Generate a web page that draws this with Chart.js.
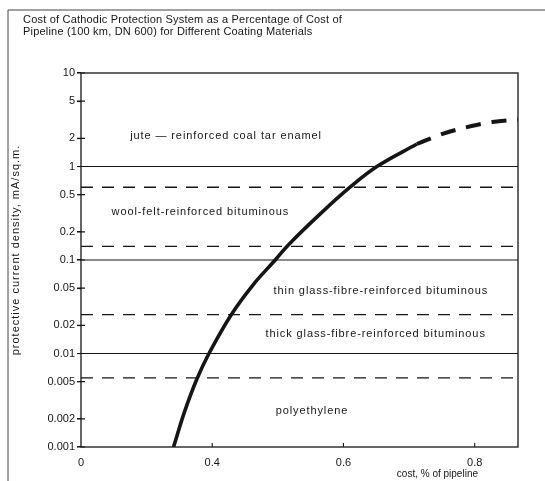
<!DOCTYPE html>
<html>
<head>
<meta charset="utf-8">
<script src="https://cdn.jsdelivr.net/npm/chart.js@4.4.1/dist/chart.umd.min.js"></script>
<style>
  html, body { margin: 0; padding: 0; background: #fff; }
  canvas { display: block; }
</style>
</head>
<body>
<canvas id="cpChart" width="545" height="481"></canvas>
<script>
// valores
const xTicks = [0.2, 0.4, 0.6, 0.8];
const xTickLabels = ["0", "0.4", "0.6", "0.8"];
const yTicks = [10, 5, 2, 1, 0.5, 0.2, 0.1, 0.05, 0.02, 0.01, 0.005, 0.002, 0.001];

// limites das faixas (linhas cheias) e valores típicos (tracejadas)
const boundaryLevels = [1, 0.1, 0.01];
const typicalLevels = [0.6, 0.14, 0.026, 0.0055];

// curva de custo (parte cheia e parte extrapolada)
const costX = [0.341, 0.358, 0.376, 0.395, 0.429, 0.462, 0.496, 0.516, 0.565, 0.61, 0.651, 0.712];
const currentY = [0.001, 0.0024, 0.0052, 0.01, 0.026, 0.054, 0.1, 0.145, 0.313, 0.6, 1, 1.74];
const extCostX = [0.712, 0.751, 0.795, 0.827, 0.866];
const extCurrentY = [1.74, 2.23, 2.71, 2.99, 3.18];

const coatings = [
    "jute \u2014 reinforced coal tar enamel",
    "wool-felt-reinforced bituminous",
    "thin glass-fibre-reinforced bituminous",
    "thick glass-fibre-reinforced bituminous",
    "polyethylene"
];
// onde cada rótulo fica (em coordenadas dos dados)
const coatingSpots = [[0.421, 2.1], [0.382, 0.33], [0.657, 0.047], [0.649, 0.0163], [0.552, 0.00245]];

const titleLines = [
    "Cost of Cathodic Protection System as a Percentage of Cost of",
    "Pipeline (100 km, DN 600) for Different Coating Materials"
];
const yTitle = "protective current density, mA/sq.m.";
const xTitle = "cost, % of pipeline";

const X_MIN = 0.2, X_MAX = 0.866;
const INK = "#151515";
const FONT = "11px 'Liberation Sans', Arial, Helvetica, sans-serif";

function levelLine(v, dashed) {
    return {
        data: [{ x: X_MIN, y: v }, { x: X_MAX, y: v }],
        borderColor: INK,
        borderWidth: dashed ? 1.3 : 1.1,
        borderDash: dashed ? [12, 9] : [],
        pointRadius: 0
    };
}

const datasets = [];
boundaryLevels.forEach(v => datasets.push(levelLine(v, false)));
typicalLevels.forEach(v => datasets.push(levelLine(v, true)));
datasets.push({
    data: costX.map((x, i) => ({ x: x, y: currentY[i] })),
    borderColor: INK,
    borderWidth: 3.6,
    tension: 0.4,
    pointRadius: 0
});
datasets.push({
    data: extCostX.map((x, i) => ({ x: x, y: extCurrentY[i] })),
    borderColor: INK,
    borderWidth: 4,
    borderDash: [15, 11],
    tension: 0.4,
    pointRadius: 0
});

// textos, moldura e marcas internas
const decorations = {
    id: "decorations",
    afterDatasetsDraw(chart) {
        const ctx = chart.ctx;
        const a = chart.chartArea;
        const xs = chart.scales.x, ys = chart.scales.y;
        ctx.save();
        ctx.strokeStyle = INK;
        ctx.fillStyle = INK;

        // moldura da figura
        ctx.lineWidth = 1;
        ctx.strokeStyle = "#444";
        ctx.beginPath();
        ctx.moveTo(8, 481);
        ctx.lineTo(8, 10);
        ctx.lineTo(545, 10);
        ctx.stroke();

        // moldura do gráfico
        ctx.strokeStyle = INK;
        ctx.lineWidth = 1.3;
        ctx.strokeRect(a.left, a.top, a.right - a.left, a.bottom - a.top);

        // marcas dos ticks para dentro
        ctx.lineWidth = 1.1;
        ctx.beginPath();
        yTicks.forEach(v => {
            const y = ys.getPixelForValue(v);
            ctx.moveTo(a.left - 4, y);
            ctx.lineTo(a.left + 4, y);
        });
        xTicks.slice(1).forEach(v => {
            const x = xs.getPixelForValue(v);
            ctx.moveTo(x, a.bottom);
            ctx.lineTo(x, a.bottom - 4);
        });
        ctx.stroke();

        ctx.font = FONT;
        ctx.textBaseline = "middle";

        // título
        ctx.textAlign = "left";
        ctx.letterSpacing = "0.2px";
        titleLines.forEach((t, i) => ctx.fillText(t, 23, 20 + i * 12));

        // rótulos das faixas
        ctx.textAlign = "center";
        ctx.letterSpacing = "0.9px";
        coatings.forEach((t, i) => {
            const p = coatingSpots[i];
            ctx.fillText(t, xs.getPixelForValue(p[0]), ys.getPixelForValue(p[1]));
        });

        // título do eixo x
        ctx.textAlign = "right";
        ctx.letterSpacing = "0px";
        ctx.font = "10px 'Liberation Sans', Arial, Helvetica, sans-serif";
        ctx.fillText(xTitle, 478, 474);

        // título do eixo y
        ctx.font = FONT;
        ctx.save();
        ctx.translate(16, 250);
        ctx.rotate(-Math.PI / 2);
        ctx.textAlign = "center";
        ctx.letterSpacing = "1px";
        ctx.fillText(yTitle, 0, 0);
        ctx.restore();

        ctx.restore();
    }
};

function initChart() {
    const ctx = document.getElementById("cpChart").getContext("2d");
    new Chart(ctx, {
        type: "line",
        data: { datasets: datasets },
        options: {
            responsive: false,
            animation: false,
            events: [],
            layout: { padding: { left: 8, top: 73, right: 27, bottom: 0 } },
            plugins: {
                legend: { display: false },
                tooltip: { enabled: false },
                title: { display: false }
            },
            scales: {
                x: {
                    type: "linear",
                    min: X_MIN,
                    max: X_MAX,
                    afterBuildTicks: s => { s.ticks = xTicks.map(v => ({ value: v })); },
                    afterFit: s => { s.height = 34; },
                    grid: { display: false },
                    border: { display: false },
                    ticks: {
                        color: INK,
                        font: { family: "'Liberation Sans', Arial, sans-serif", size: 11 },
                        padding: 1,
                        maxRotation: 0,
                        callback: (v, i) => xTickLabels[i]
                    }
                },
                y: {
                    type: "logarithmic",
                    min: 0.001,
                    max: 10,
                    afterBuildTicks: s => { s.ticks = yTicks.map(v => ({ value: v })); },
                    afterFit: s => { s.width = 73; },
                    grid: { drawOnChartArea: false, tickLength: 4, color: INK, lineWidth: 1.1 },
                    border: { display: false },
                    ticks: {
                        color: INK,
                        font: { family: "'Liberation Sans', Arial, sans-serif", size: 11 },
                        padding: 2,
                        autoSkip: false,
                        callback: v => String(v)
                    }
                }
            }
        },
        plugins: [decorations]
    });
}

window.onload = initChart;
</script>
</body>
</html>
